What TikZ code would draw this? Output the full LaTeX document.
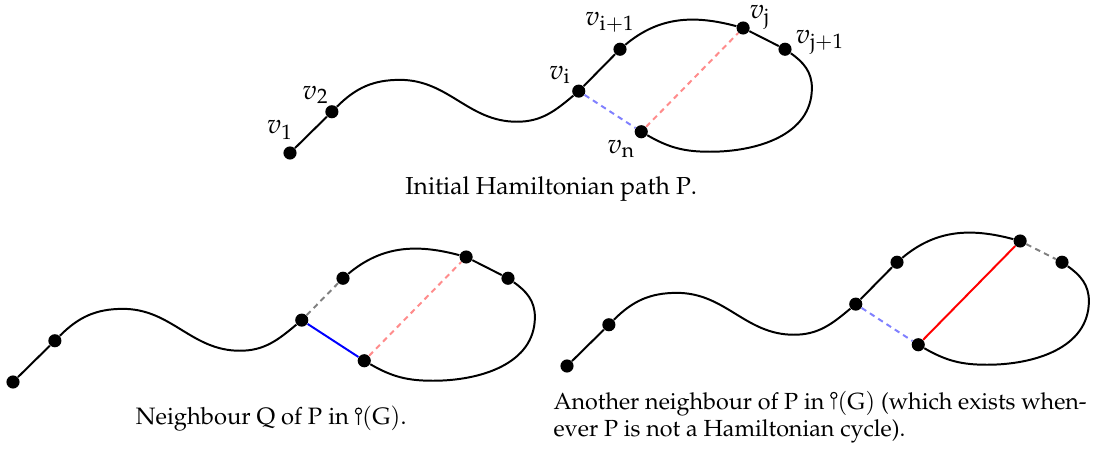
\documentclass[tikz,border=0pt]{standalone}
\usepackage[T1]{fontenc}
\usepackage{mathpazo}
\usepackage{tikz}
\usetikzlibrary{positioning}

% small "path graph" symbol used in the captions
\newcommand{\pathgraph}{\tikz[baseline=0pt]{\draw[line width=0.5pt] (0,0) -- (0,4.9pt) (0,6.3pt) circle[radius=1.4pt];}}

% one copy of the path: vertices and the fixed black pieces
\newcommand{\hampath}[1]{%
    \node[vtx] (#1v1) at (0,0) {};
    \node[vtx] (#1v2) at (0.67,0.66) {};
    \node[vtx] (#1vi) at (4.62,0.99) {};
    \node[vtx] (#1vip) at (5.28,1.66) {};
    \node[vtx] (#1vj) at (7.25,2.00) {};
    \node[vtx] (#1vjp) at (7.92,1.66) {};
    \node[vtx] (#1vn) at (5.62,0.34) {};
    \coordinate (#1crest) at (1.76,1.17);
    \coordinate (#1dip) at (3.63,0.50);
    \coordinate (#1east) at (8.35,1.04);
    \coordinate (#1south) at (6.72,0.02);
    \draw[pth] (#1v1) -- (#1v2);
    \draw[pth] (#1v2) to[out=45,in=180] (#1crest) to[out=0,in=180] (#1dip) to[out=0,in=220] (#1vi);
    \draw[pth] (#1vip) to[out=40,in=165] (#1vj);
    \draw[pth] (#1vjp) to[out=-35,in=90] (#1east) to[out=-90,in=0] (#1south) to[out=180,in=-30] (#1vn);
}

\begin{document}
\begin{tikzpicture}[
    vtx/.style={circle, fill=black, inner sep=0pt, minimum size=0.21cm},
    pth/.style={line width=0.9pt},
    bluedash/.style={line width=0.9pt, blue!50, dash pattern=on 2.5pt off 2pt},
    reddash/.style={line width=0.9pt, red!45, dash pattern=on 2.5pt off 2pt},
    greydash/.style={line width=0.9pt, gray, dash pattern=on 2.5pt off 2pt},
    blueedge/.style={line width=0.9pt, blue},
    rededge/.style={line width=0.9pt, red},
    lbl/.style={inner sep=0pt, font=\fontsize{12.5}{14}\selectfont},
    capt/.style={font=\fontsize{10.8}{12.5}\selectfont},
]
    \useasboundingbox (0,0) rectangle (17.664,-7.2);

    % Initial path
    \begin{scope}[shift={(4.64,-2.448)}]
        \hampath{a}
        \draw[pth] (avi) -- (avip);
        \draw[pth] (avj) -- (avjp);
        \draw[bluedash] (avi) -- (avn);
        \draw[reddash] (avn) -- (avj);

        \node[lbl] (lv1) at ([shift={(-0.16,0.37)}]av1) {$v_{\mathrm{1}}$};
        \node[lbl] (lv2) at ([shift={(-0.26,0.27)}]av2) {$v_{\mathrm{2}}$};
        \node[lbl] (lvi) at ([shift={(-0.30,0.26)}]avi) {$v_{\mathrm{i}}$};
        \node[lbl] (lvip) at ([shift={(-0.16,0.43)}]avip) {$v_{\mathrm{i+1}}$};
        \node[lbl] (lvj) at ([shift={(0.27,0.17)}]avj) {$v_{\mathrm{j}}$};
        \node[lbl] (lvjp) at ([shift={(0.56,0.11)}]avjp) {$v_{\mathrm{j+1}}$};
        \node[lbl] (lvn) at ([shift={(-0.32,-0.27)}]avn) {$v_{\mathrm{n}}$};
    \end{scope}

    % Neighbour Q
    \begin{scope}[shift={(0.208,-6.112)}]
        \hampath{b}
        \draw[greydash] (bvi) -- (bvip);
        \draw[pth] (bvj) -- (bvjp);
        \draw[blueedge] (bvi) -- (bvn);
        \draw[reddash] (bvn) -- (bvj);
    \end{scope}

    % Another neighbour
    \begin{scope}[shift={(9.072,-5.856)}]
        \hampath{c}
        \draw[pth] (cvi) -- (cvip);
        \draw[greydash] (cvj) -- (cvjp);
        \draw[bluedash] (cvi) -- (cvn);
        \draw[rededge] (cvn) -- (cvj);
    \end{scope}

    % Captions
    \node[capt, font=\fontsize{11.2}{12.5}\selectfont, anchor=base] (capa) at (8.82,-3.12) {Initial Hamiltonian path $\mathrm{P}$.};
    \node[capt, anchor=base] (capb) at (4.34,-6.8) {Neighbour $\mathrm{Q}$ of $\mathrm{P}$ in $\pathgraph(\mathrm{G})$.};
    \node[capt, font=\fontsize{10.6}{12.4}\selectfont, anchor=north west, inner sep=0pt, align=left] (capc) at (8.85,-6.25)
        {Another neighbour of $\mathrm{P}$ in $\pathgraph(\mathrm{G})$ (which exists when-\\ever $\mathrm{P}$ is not a Hamiltonian cycle).};
\end{tikzpicture}
\end{document}
